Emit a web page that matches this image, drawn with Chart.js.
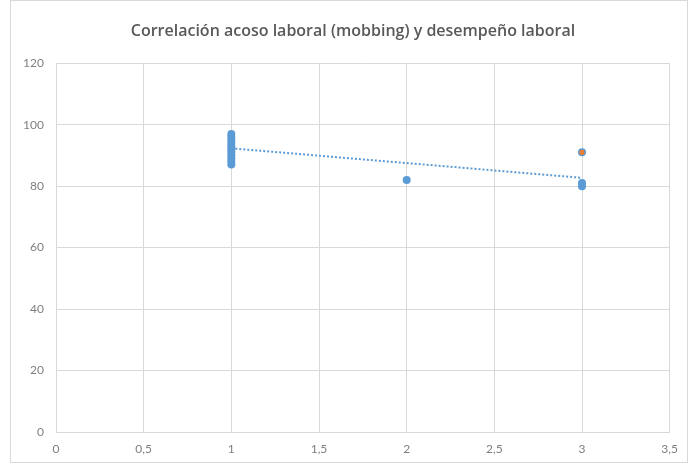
<!DOCTYPE html>
<html lang="es">
<head>
<meta charset="utf-8">
<title>Correlación acoso laboral y desempeño laboral</title>
<script src="https://cdn.jsdelivr.net/npm/chart.js@4/dist/chart.umd.min.js"></script>
<style>
  html, body { margin: 0; padding: 0; background: #fff; }
  #wrap { position: relative; width: 688px; height: 463px; }
  #frame { position: absolute; left: 10px; top: 0; width: 676px; height: 461px; border: 1px solid #d9d9d9; pointer-events: none; }
  #chart { position: absolute; left: 0; top: 0; }
</style>
</head>
<body>
<div id="wrap">
  <canvas id="chart" width="688" height="463"></canvas>
  <div id="frame"></div>
</div>
<script>
// acoso laboral (x) vs desempeño laboral (y)
const acosoX = [1, 1, 1, 1, 1, 1, 1, 1, 1, 1, 1, 2, 3, 3, 3];
const desempenoY = [87, 88, 89, 90, 91, 92, 93, 94, 95, 96, 97, 82, 80, 81, 91];
const destacadoX = [3];
const destacadoY = [91];
const tendenciaX = [1, 3];
const tendenciaY = [92.3, 82.7];
const xTicks = [0, 0.5, 1, 1.5, 2, 2.5, 3, 3.5];
const yTicks = [0, 20, 40, 60, 80, 100, 120];

const toPoints = (xs, ys) => xs.map((x, i) => ({ x, y: ys[i] }));
const gridColor = '#d9d9d9';
const labelColor = '#7f7f7f';
const font = 'Lato, Calibri, "Open Sans", sans-serif';

// centre the title over the whole frame rather than the padded layout box
const centreTitle = {
  id: 'centreTitle',
  afterLayout(chart) {
    if (!chart.titleBlock) return;
    chart.titleBlock.left = 20;
    chart.titleBlock.right = 686;
  },
};

new Chart(document.getElementById('chart'), {
  type: 'scatter',
  data: {
    datasets: [
      {
        label: 'Tendencia',
        type: 'line',
        data: toPoints(tendenciaX, tendenciaY),
        borderColor: '#5b9bd5',
        borderWidth: 2,
        borderDash: [2, 2],
        pointRadius: 0,
        fill: false,
        order: 3,
      },
      {
        label: 'Desempeño',
        data: toPoints(acosoX, desempenoY),
        backgroundColor: '#5b9bd5',
        borderColor: '#5b9bd5',
        pointRadius: 4,
        pointBorderWidth: 0,
        order: 2,
      },
      {
        label: 'Destacado',
        data: toPoints(destacadoX, destacadoY),
        backgroundColor: '#ed7d31',
        borderColor: '#ed7d31',
        pointRadius: 2.6,
        pointBorderWidth: 0,
        order: 1,
      },
    ],
  },
  options: {
    responsive: false,
    animation: false,
    layout: { padding: { left: 10, right: 18, top: 5, bottom: 0 } },
    plugins: {
      legend: { display: false },
      tooltip: { enabled: false },
      title: {
        display: true,
        text: 'Correlación acoso laboral (mobbing) y desempeño laboral',
        color: '#595959',
        font: { family: '"Open Sans", sans-serif', size: 16, weight: '600' },
        padding: { top: 17, bottom: 22 },
      },
    },
    scales: {
      x: {
        type: 'linear',
        min: 0,
        max: 3.5,
        afterBuildTicks: (scale) => { scale.ticks = xTicks.map((v) => ({ value: v })); },
        afterFit: (scale) => { scale.height = 31; },
        grid: { color: gridColor, drawTicks: false },
        border: { color: gridColor },
        ticks: {
          color: labelColor,
          font: { family: font, size: 12 },
          padding: 10,
          callback: (v) => String(v).replace('.', ','),
        },
      },
      y: {
        type: 'linear',
        min: 0,
        max: 120,
        afterBuildTicks: (scale) => { scale.ticks = yTicks.map((v) => ({ value: v })); },
        afterFit: (scale) => { scale.width = 46; },
        grid: { color: gridColor, drawTicks: false },
        border: { color: gridColor },
        ticks: {
          color: labelColor,
          font: { family: font, size: 12 },
          padding: 12,
        },
      },
    },
  },
  plugins: [centreTitle],
});
</script>
</body>
</html>
